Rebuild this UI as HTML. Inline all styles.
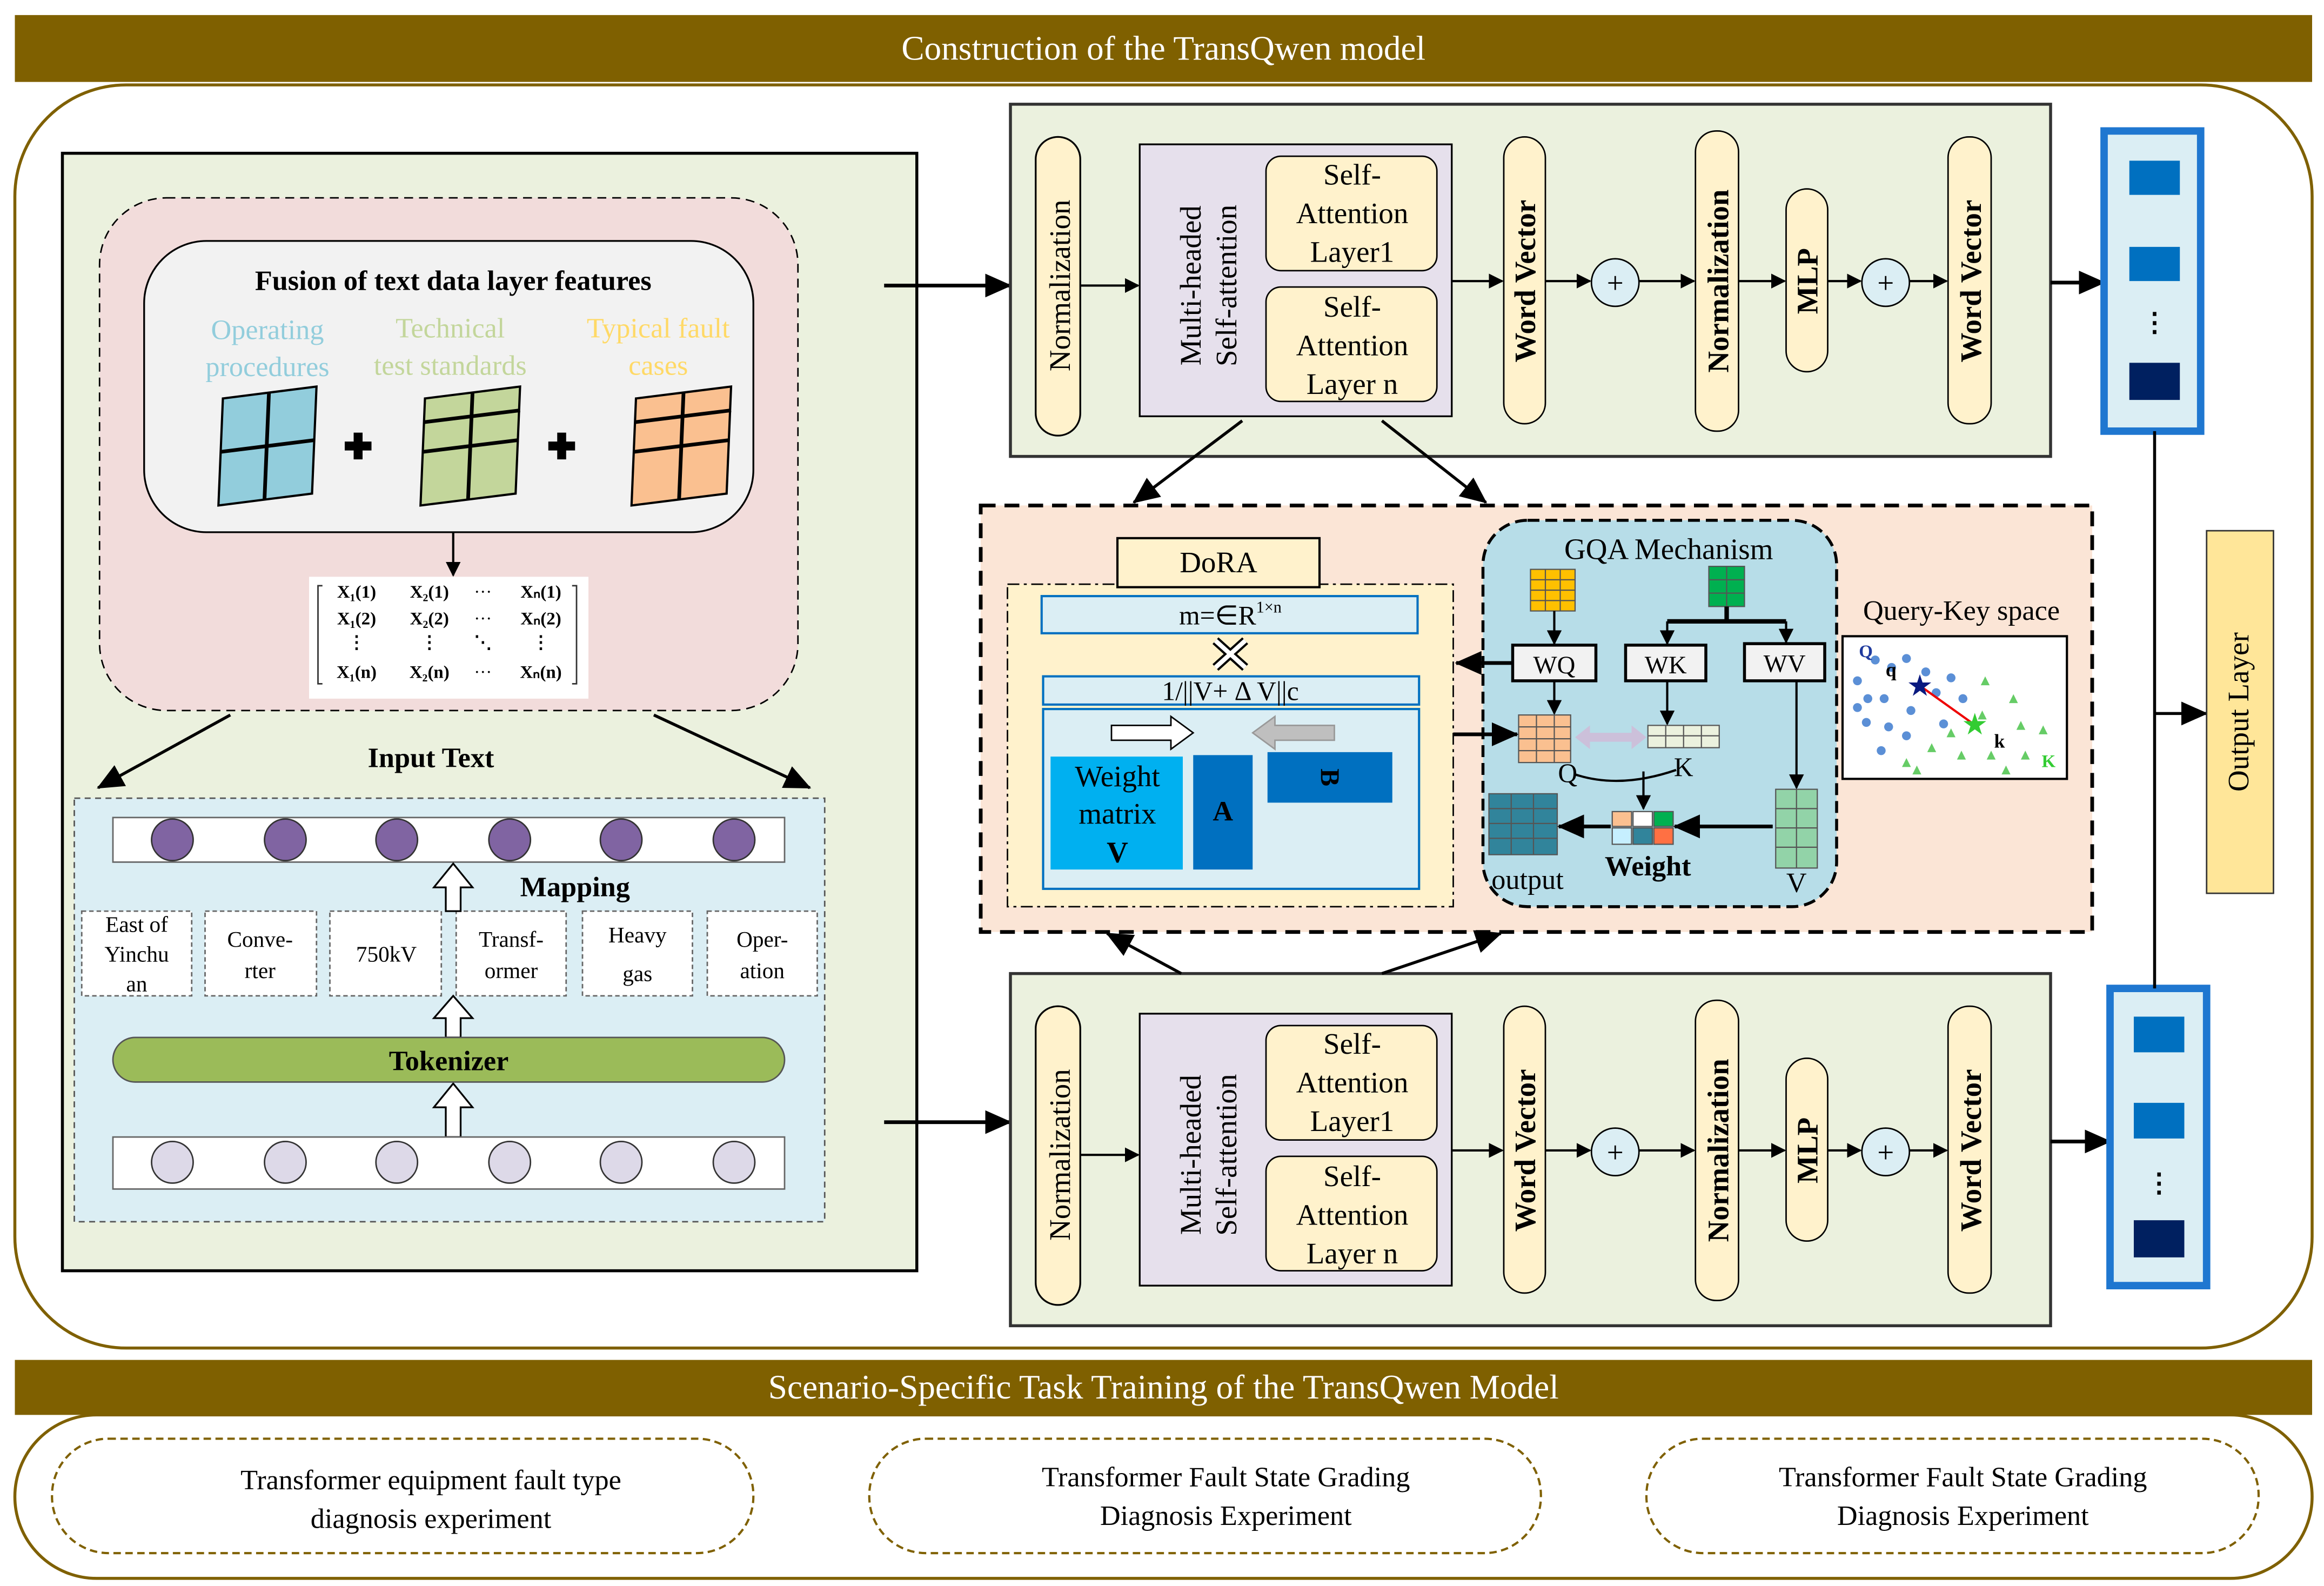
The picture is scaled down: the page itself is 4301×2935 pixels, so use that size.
<!DOCTYPE html>
<html><head><meta charset="utf-8"><style>html,body{margin:0;padding:0;background:#fff}svg{display:block}text{font-family:"Liberation Serif",serif}</style></head>
<body>
<svg width="4301" height="2935" viewBox="0 0 1564 1067" xmlns="http://www.w3.org/2000/svg">
<defs>
<marker id="ah" markerWidth="10" markerHeight="10" refX="9" refY="5" orient="auto" markerUnits="userSpaceOnUse"><path d="M0,0 L10,5 L0,10 z" fill="#000"/></marker>
<marker id="ahb" markerWidth="18" markerHeight="16" refX="17" refY="8" orient="auto" markerUnits="userSpaceOnUse"><path d="M0,0 L18,8 L0,16 z" fill="#000"/></marker>
</defs>
<rect width="1564" height="1067" fill="#fff"/>
<!-- top banner -->
<rect x="10" y="10" width="1546" height="45" fill="#7f6000"/>
<text x="783" y="40" font-size="23" fill="#fff" text-anchor="middle">Construction of the TransQwen model</text>
<rect x="10" y="57" width="1546" height="850" rx="75" fill="#fff" stroke="#7f6000" stroke-width="2"/>

<!-- left panel -->
<rect x="42" y="103" width="575" height="752" fill="#ebf1de" stroke="#000" stroke-width="2"/>
<rect x="67" y="133" width="470" height="345" rx="45" fill="#f2dcdb" stroke="#000" stroke-dasharray="6,4"/>
<rect x="97" y="162" width="410" height="196" rx="42" fill="#f2f2f2" stroke="#000" stroke-width="1.2"/>
<text x="305" y="195" font-size="19" font-weight="bold" text-anchor="middle">Fusion of text data layer features</text>
<g font-size="19" text-anchor="middle">
<text x="180" y="228" fill="#92cddc">Operating</text><text x="180" y="253" fill="#92cddc">procedures</text>
<text x="303" y="227" fill="#c3d69b">Technical</text><text x="303" y="252" fill="#c3d69b">test standards</text>
<text x="443" y="227" fill="#ffd966">Typical fault</text><text x="443" y="252" fill="#ffd966">cases</text>
</g>
<g stroke="#000" stroke-width="1.5">
<path d="M150,268 L213,260 L210,332 L147,340 z" fill="#92cddc"/>
<path d="M181,264 L178,336 M148,304 L212,296" stroke-width="2.5"/>
<path d="M286,268 L350,260 L347,332 L283,340 z" fill="#c3d69b"/>
<path d="M318,264 L315,336 M284,304 L349,296 M285,284 L350,276" stroke-width="2.5"/>
<path d="M428,268 L492,260 L489,332 L425,340 z" fill="#fac090"/>
<path d="M460,264 L457,336 M426,304 L491,296 M427,284 L492,276" stroke-width="2.5"/>
</g>
<path d="M241,291 v18 M232,300 h18" stroke="#000" stroke-width="6"/>
<path d="M378,291 v18 M369,300 h18" stroke="#000" stroke-width="6"/>
<line x1="305" y1="358" x2="305" y2="387" stroke="#000" stroke-width="1.5" marker-end="url(#ah)"/>
<rect x="208" y="388" width="188" height="82" fill="#fff"/>
<g font-size="12" font-weight="bold" text-anchor="middle">
<text x="240" y="402">X₁(1)</text><text x="289" y="402">X₂(1)</text><text x="325" y="402" font-weight="normal">···</text><text x="364" y="402">Xₙ(1)</text>
<text x="240" y="420">X₁(2)</text><text x="289" y="420">X₂(2)</text><text x="325" y="420" font-weight="normal">···</text><text x="364" y="420">Xₙ(2)</text>
<text x="240" y="436">⋮</text><text x="289" y="436">⋮</text><text x="325" y="436">⋱</text><text x="364" y="436">⋮</text>
<text x="240" y="456">X₁(n)</text><text x="289" y="456">X₂(n)</text><text x="325" y="456" font-weight="normal">···</text><text x="364" y="456">Xₙ(n)</text>
</g>
<path d="M217,394 h-3 v66 h3 M385,394 h3 v66 h-3" fill="none" stroke="#333"/>
<text x="290" y="516" font-size="19" font-weight="bold" text-anchor="middle">Input Text</text>
<line x1="155" y1="481" x2="66" y2="530" stroke="#000" stroke-width="2" marker-end="url(#ahb)"/>
<line x1="440" y1="481" x2="545" y2="530" stroke="#000" stroke-width="2" marker-end="url(#ahb)"/>
<rect x="50" y="537" width="505" height="285" fill="#dbeef4" stroke="#555" stroke-dasharray="4,3"/>
<rect x="76" y="550" width="452" height="30" fill="#fff" stroke="#666"/>
<g fill="#8064a2" stroke="#333"><circle cx="116" cy="565" r="14"/><circle cx="192" cy="565" r="14"/><circle cx="267" cy="565" r="14"/><circle cx="343" cy="565" r="14"/><circle cx="418" cy="565" r="14"/><circle cx="494" cy="565" r="14"/></g>
<text x="387" y="603" font-size="19" font-weight="bold" text-anchor="middle">Mapping</text>
<g fill="#fff" stroke="#666" stroke-dasharray="3,2">
<rect x="55" y="613" width="74" height="57"/><rect x="138" y="613" width="75" height="57"/><rect x="222" y="613" width="75" height="57"/><rect x="307" y="613" width="74" height="57"/><rect x="392" y="613" width="74" height="57"/><rect x="476" y="613" width="74" height="57"/>
</g>
<g font-size="15" text-anchor="middle">
<text x="92" y="627">East of</text><text x="92" y="647">Yinchu</text><text x="92" y="667">an</text>
<text x="175" y="637">Conve-</text><text x="175" y="658">rter</text>
<text x="260" y="647">750kV</text>
<text x="344" y="637">Transf-</text><text x="344" y="658">ormer</text>
<text x="429" y="634">Heavy</text><text x="429" y="660">gas</text>
<text x="513" y="637">Oper-</text><text x="513" y="658">ation</text>
</g>
<g fill="#fff" stroke="#000" stroke-width="1.2">
<path d="M300,613 v-16 h-8 l13,-16 l13,16 h-8 v16 z"/>
<path d="M300,698 v-13 h-8 l13,-15 l13,15 h-8 v13 z"/>
<path d="M300,765 v-20 h-8 l13,-16 l13,16 h-8 v20 z"/>
</g>
<rect x="76" y="698" width="452" height="30" rx="15" fill="#9bbb59" stroke="#555"/>
<text x="302" y="720" font-size="19" font-weight="bold" text-anchor="middle">Tokenizer</text>
<rect x="76" y="765" width="452" height="35" fill="#fff" stroke="#666"/>
<g fill="#ddd9e8" stroke="#333"><circle cx="116" cy="782" r="14"/><circle cx="192" cy="782" r="14"/><circle cx="267" cy="782" r="14"/><circle cx="343" cy="782" r="14"/><circle cx="418" cy="782" r="14"/><circle cx="494" cy="782" r="14"/></g>

<!-- arrows into transformer -->
<line x1="595" y1="192" x2="680" y2="192" stroke="#000" stroke-width="2.5" marker-end="url(#ahb)"/>
<line x1="595" y1="755" x2="680" y2="755" stroke="#000" stroke-width="2.5" marker-end="url(#ahb)"/>

<!-- transformer blocks -->
<g id="tb1">
<rect x="680" y="70" width="700" height="237" fill="#ebf1de" stroke="#333" stroke-width="2"/>
<rect x="697" y="92" width="30" height="201" rx="15" fill="#fff2cc" stroke="#000" stroke-width="1.2"/>
<text transform="translate(720,192) rotate(-90)" font-size="20" text-anchor="middle">Normalization</text>
<rect x="767" y="97" width="210" height="183" fill="#e6e0ec" stroke="#000" stroke-width="1.2"/>
<text transform="translate(808,192) rotate(-90)" font-size="20" text-anchor="middle">Multi-headed</text>
<text transform="translate(832,192) rotate(-90)" font-size="20" text-anchor="middle">Self-attention</text>
<rect x="852" y="105" width="115" height="77" rx="10" fill="#fff2cc" stroke="#000"/>
<text x="910" y="124" font-size="20" text-anchor="middle">Self-</text><text x="910" y="150" font-size="20" text-anchor="middle">Attention</text><text x="910" y="176" font-size="20" text-anchor="middle">Layer1</text>
<rect x="852" y="193" width="115" height="77" rx="10" fill="#fff2cc" stroke="#000"/>
<text x="910" y="213" font-size="20" text-anchor="middle">Self-</text><text x="910" y="239" font-size="20" text-anchor="middle">Attention</text><text x="910" y="265" font-size="20" text-anchor="middle">Layer n</text>
<rect x="1012" y="92" width="28" height="193" rx="14" fill="#fff2cc" stroke="#000"/>
<text transform="translate(1033,189) rotate(-90)" font-size="20" font-weight="bold" text-anchor="middle">Word Vector</text>
<circle cx="1087" cy="190" r="16" fill="#dbeef4" stroke="#000"/><text x="1087" y="197" font-size="20" text-anchor="middle">+</text>
<rect x="1141" y="88" width="29" height="202" rx="14" fill="#fff2cc" stroke="#000"/>
<text transform="translate(1163,189) rotate(-90)" font-size="20" font-weight="bold" text-anchor="middle">Normalization</text>
<rect x="1202" y="127" width="28" height="123" rx="14" fill="#fff2cc" stroke="#000"/>
<text transform="translate(1223,189) rotate(-90)" font-size="20" font-weight="bold" text-anchor="middle">MLP</text>
<circle cx="1269" cy="190" r="16" fill="#dbeef4" stroke="#000"/><text x="1269" y="197" font-size="20" text-anchor="middle">+</text>
<rect x="1311" y="92" width="29" height="193" rx="14" fill="#fff2cc" stroke="#000"/>
<text transform="translate(1333,189) rotate(-90)" font-size="20" font-weight="bold" text-anchor="middle">Word Vector</text>
<g stroke="#000" stroke-width="1.5" marker-end="url(#ah)">
<line x1="727" y1="192" x2="766" y2="192"/><line x1="977" y1="189" x2="1011" y2="189"/><line x1="1040" y1="189" x2="1070" y2="189"/><line x1="1103" y1="189" x2="1140" y2="189"/><line x1="1170" y1="189" x2="1201" y2="189"/><line x1="1230" y1="189" x2="1252" y2="189"/><line x1="1285" y1="189" x2="1310" y2="189"/>
</g>
</g>
<g transform="translate(0,585)">
<rect x="680" y="70" width="700" height="237" fill="#ebf1de" stroke="#333" stroke-width="2"/>
<rect x="697" y="92" width="30" height="201" rx="15" fill="#fff2cc" stroke="#000" stroke-width="1.2"/>
<text transform="translate(720,192) rotate(-90)" font-size="20" text-anchor="middle">Normalization</text>
<rect x="767" y="97" width="210" height="183" fill="#e6e0ec" stroke="#000" stroke-width="1.2"/>
<text transform="translate(808,192) rotate(-90)" font-size="20" text-anchor="middle">Multi-headed</text>
<text transform="translate(832,192) rotate(-90)" font-size="20" text-anchor="middle">Self-attention</text>
<rect x="852" y="105" width="115" height="77" rx="10" fill="#fff2cc" stroke="#000"/>
<text x="910" y="124" font-size="20" text-anchor="middle">Self-</text><text x="910" y="150" font-size="20" text-anchor="middle">Attention</text><text x="910" y="176" font-size="20" text-anchor="middle">Layer1</text>
<rect x="852" y="193" width="115" height="77" rx="10" fill="#fff2cc" stroke="#000"/>
<text x="910" y="213" font-size="20" text-anchor="middle">Self-</text><text x="910" y="239" font-size="20" text-anchor="middle">Attention</text><text x="910" y="265" font-size="20" text-anchor="middle">Layer n</text>
<rect x="1012" y="92" width="28" height="193" rx="14" fill="#fff2cc" stroke="#000"/>
<text transform="translate(1033,189) rotate(-90)" font-size="20" font-weight="bold" text-anchor="middle">Word Vector</text>
<circle cx="1087" cy="190" r="16" fill="#dbeef4" stroke="#000"/><text x="1087" y="197" font-size="20" text-anchor="middle">+</text>
<rect x="1141" y="88" width="29" height="202" rx="14" fill="#fff2cc" stroke="#000"/>
<text transform="translate(1163,189) rotate(-90)" font-size="20" font-weight="bold" text-anchor="middle">Normalization</text>
<rect x="1202" y="127" width="28" height="123" rx="14" fill="#fff2cc" stroke="#000"/>
<text transform="translate(1223,189) rotate(-90)" font-size="20" font-weight="bold" text-anchor="middle">MLP</text>
<circle cx="1269" cy="190" r="16" fill="#dbeef4" stroke="#000"/><text x="1269" y="197" font-size="20" text-anchor="middle">+</text>
<rect x="1311" y="92" width="29" height="193" rx="14" fill="#fff2cc" stroke="#000"/>
<text transform="translate(1333,189) rotate(-90)" font-size="20" font-weight="bold" text-anchor="middle">Word Vector</text>
<g stroke="#000" stroke-width="1.5" marker-end="url(#ah)">
<line x1="727" y1="192" x2="766" y2="192"/><line x1="977" y1="189" x2="1011" y2="189"/><line x1="1040" y1="189" x2="1070" y2="189"/><line x1="1103" y1="189" x2="1140" y2="189"/><line x1="1170" y1="189" x2="1201" y2="189"/><line x1="1230" y1="189" x2="1252" y2="189"/><line x1="1285" y1="189" x2="1310" y2="189"/>
</g>
</g>

<!-- output boxes -->
<line x1="1380" y1="190" x2="1416" y2="190" stroke="#000" stroke-width="2.5" marker-end="url(#ahb)"/>
<line x1="1380" y1="768" x2="1420" y2="768" stroke="#000" stroke-width="2.5" marker-end="url(#ahb)"/>
<rect x="1416" y="88" width="65" height="202" fill="#dbeef4" stroke="#1f77d0" stroke-width="5"/>
<rect x="1433" y="108" width="34" height="23" fill="#0070c0"/><rect x="1433" y="166" width="34" height="23" fill="#0070c0"/>
<text x="1450" y="223" font-size="18" font-weight="bold" text-anchor="middle">⋮</text>
<rect x="1433" y="244" width="34" height="25" fill="#002060"/>
<rect x="1420" y="665" width="65" height="200" fill="#dbeef4" stroke="#1f77d0" stroke-width="5"/>
<rect x="1436" y="684" width="34" height="24" fill="#0070c0"/><rect x="1436" y="742" width="34" height="24" fill="#0070c0"/>
<text x="1453" y="802" font-size="18" font-weight="bold" text-anchor="middle">⋮</text>
<rect x="1436" y="821" width="34" height="25" fill="#002060"/>
<line x1="1450" y1="290" x2="1450" y2="665" stroke="#000" stroke-width="2"/>
<line x1="1450" y1="480" x2="1485" y2="480" stroke="#000" stroke-width="2" marker-end="url(#ahb)"/>
<rect x="1485" y="357" width="45" height="244" fill="#ffe699" stroke="#333"/>
<text transform="translate(1513,479) rotate(-90)" font-size="20" text-anchor="middle">Output Layer</text>

<!-- middle region -->
<rect x="660" y="340" width="748" height="287" fill="#fbe5d6" stroke="#000" stroke-width="2.5" stroke-dasharray="10,6"/>
<g stroke="#000" stroke-width="2" marker-end="url(#ahb)">
<line x1="836" y1="283" x2="763" y2="338"/><line x1="930" y1="283" x2="1000" y2="338"/>
<line x1="795" y1="655" x2="745" y2="628"/><line x1="930" y1="655" x2="1010" y2="628"/>
</g>
<rect x="678" y="393" width="300" height="217" fill="#fff2cc" stroke="#000" stroke-dasharray="8,3,2,3"/>
<rect x="752" y="362" width="136" height="33" fill="#fff2cc" stroke="#000" stroke-width="1.5"/>
<text x="820" y="385" font-size="20" text-anchor="middle">DoRA</text>
<rect x="701" y="401" width="253" height="25" fill="#dbeef4" stroke="#0070c0" stroke-width="1.5"/>
<text x="828" y="420" font-size="18" text-anchor="middle">m=∈R<tspan font-size="11" dy="-8">1×n</tspan></text>
<path d="M818,431 l20,18 M838,431 l-20,18" stroke="#000" stroke-width="6"/>
<path d="M818,431 l20,18 M838,431 l-20,18" stroke="#fff" stroke-width="3"/>
<rect x="702" y="455" width="253" height="19" fill="#dbeef4" stroke="#0070c0" stroke-width="1.5"/>
<text x="828" y="471" font-size="18" text-anchor="middle">1/||V+ Δ V||c</text>
<rect x="702" y="477" width="253" height="121" fill="#dbeef4" stroke="#0070c0" stroke-width="1.5"/>
<path d="M748,488 h40 v-6 l15,11 l-15,11 v-6 h-40 z" fill="#fff" stroke="#000"/>
<path d="M898,488 h-40 v-6 l-15,11 l15,11 v-6 h40 z" fill="#bfbfbf" stroke="#999"/>
<rect x="707" y="509" width="89" height="76" fill="#00b0f0"/>
<text x="752" y="529" font-size="20" text-anchor="middle">Weight</text><text x="752" y="554" font-size="20" text-anchor="middle">matrix</text><text x="752" y="580" font-size="20" font-weight="bold" text-anchor="middle">V</text>
<rect x="803" y="508" width="40" height="77" fill="#0070c0"/><text x="823" y="552" font-size="19" font-weight="bold" text-anchor="middle">A</text>
<rect x="853" y="506" width="84" height="34" fill="#0070c0"/><text transform="translate(889,523) rotate(90)" font-size="18" font-weight="bold" text-anchor="middle">B</text>

<!-- GQA -->
<rect x="998" y="350" width="238" height="260" rx="30" fill="#b7dde8" stroke="#000" stroke-width="2" stroke-dasharray="8,4"/>
<text x="1123" y="376" font-size="20" text-anchor="middle">GQA Mechanism</text>
<g stroke="#555" stroke-width="0.8">
<rect x="1030" y="383" width="30" height="28" fill="#ffc000"/><path d="M1040,383 v28 M1050,383 v28 M1030,390 h30 M1030,397 h30 M1030,404 h30"/>
<rect x="1150" y="381" width="24" height="27" fill="#00b050"/><path d="M1162,381 v27 M1150,390 h24 M1150,399 h24"/>
<rect x="1022" y="481" width="35" height="32" fill="#fac090"/><path d="M1034,481 v32 M1046,481 v32 M1022,489 h35 M1022,497 h35 M1022,505 h35"/>
<rect x="1109" y="488" width="48" height="15" fill="#ebf1de"/><path d="M1121,488 v15 M1133,488 v15 M1145,488 v15 M1109,495 h48"/>
<rect x="1195" y="531" width="28" height="53" fill="#92d3a8"/><path d="M1209,531 v53 M1195,544 h28 M1195,557 h28 M1195,570 h28"/>
<rect x="1002" y="534" width="46" height="41" fill="#31849b"/><path d="M1017,534 v41 M1032,534 v41 M1002,544 h46 M1002,554 h46 M1002,564 h46"/>
<rect x="1085" y="546" width="13" height="10" fill="#fac090"/><rect x="1099" y="546" width="13" height="10" fill="#fff"/><rect x="1113" y="546" width="13" height="10" fill="#00b050"/>
<rect x="1085" y="557" width="13" height="11" fill="#c6efff"/><rect x="1099" y="557" width="13" height="11" fill="#31849b"/><rect x="1113" y="557" width="13" height="11" fill="#ff7043"/>
</g>
<path d="M1162,408 v10 M1122,418 h80" stroke="#000" stroke-width="3"/>
<rect x="1018" y="434" width="56" height="24" fill="#f2f2f2" stroke="#000" stroke-width="2"/><text x="1046" y="453" font-size="17" text-anchor="middle">WQ</text>
<rect x="1094" y="434" width="54" height="24" fill="#f2f2f2" stroke="#000" stroke-width="2"/><text x="1121" y="453" font-size="17" text-anchor="middle">WK</text>
<rect x="1174" y="433" width="54" height="25" fill="#f2f2f2" stroke="#000" stroke-width="2"/><text x="1201" y="452" font-size="17" text-anchor="middle">WV</text>
<g stroke="#000" stroke-width="1.5" marker-end="url(#ah)">
<line x1="1046" y1="411" x2="1046" y2="433"/><line x1="1122" y1="418" x2="1122" y2="433"/><line x1="1202" y1="418" x2="1202" y2="432"/>
<line x1="1046" y1="458" x2="1046" y2="480"/><line x1="1122" y1="458" x2="1122" y2="487"/><line x1="1209" y1="458" x2="1209" y2="530"/>
<line x1="1106" y1="519" x2="1106" y2="544"/>
</g>
<g stroke="#000" stroke-width="2.5" marker-end="url(#ahb)">
<line x1="1018" y1="446" x2="980" y2="446"/><line x1="978" y1="494" x2="1021" y2="494"/>
<line x1="1193" y1="556" x2="1127" y2="556"/><line x1="1084" y1="556" x2="1049" y2="556"/>
</g>
<path d="M1060,496 l10,-8 v5 h28 v-5 l10,8 l-10,8 v-5 h-28 v5 z" fill="#ccc0da"/>
<path d="M1060,521 q30,10 68,-3" fill="none" stroke="#000" stroke-width="1.5"/>
<text x="1055" y="526" font-size="18" text-anchor="middle">Q</text><text x="1133" y="522" font-size="18" text-anchor="middle">K</text>
<text x="1028" y="598" font-size="19" text-anchor="middle">output</text>
<text x="1109" y="589" font-size="19" font-weight="bold" text-anchor="middle">Weight</text>
<text x="1209" y="600" font-size="19" text-anchor="middle">V</text>
<text x="1320" y="417" font-size="19" text-anchor="middle">Query-Key space</text>
<rect x="1240" y="428" width="151" height="96" fill="#fff" stroke="#000" stroke-width="1.5"/>
<g fill="#5b8fd6">
<circle cx="1262" cy="444" r="3"/><circle cx="1273" cy="449" r="3"/><circle cx="1283" cy="443" r="3"/><circle cx="1296" cy="452" r="3"/><circle cx="1250" cy="458" r="3"/><circle cx="1257" cy="470" r="3"/><circle cx="1268" cy="470" r="3"/><circle cx="1250" cy="476" r="3"/><circle cx="1286" cy="478" r="3"/><circle cx="1303" cy="466" r="3"/><circle cx="1313" cy="456" r="3"/><circle cx="1256" cy="486" r="3"/><circle cx="1271" cy="489" r="3"/><circle cx="1283" cy="495" r="3"/><circle cx="1308" cy="487" r="3"/><circle cx="1321" cy="470" r="3"/><circle cx="1266" cy="505" r="3"/>
</g>
<g fill="#66cc66">
<path d="M1336,455 l3,6 h-6 z"/><path d="M1313,490 l3,6 h-6 z"/><path d="M1334,478 l3,6 h-6 z"/><path d="M1355,467 l3,6 h-6 z"/><path d="M1360,485 l3,6 h-6 z"/><path d="M1300,500 l3,6 h-6 z"/><path d="M1320,505 l3,6 h-6 z"/><path d="M1340,505 l3,6 h-6 z"/><path d="M1283,510 l3,6 h-6 z"/><path d="M1363,505 l3,6 h-6 z"/><path d="M1375,488 l3,6 h-6 z"/><path d="M1290,515 l3,6 h-6 z"/><path d="M1350,515 l3,6 h-6 z"/>
</g>
<line x1="1293" y1="462" x2="1328" y2="487" stroke="#e00" stroke-width="1.5"/>
<text x="1292" y="468" font-size="20" fill="#0a1a80" text-anchor="middle">★</text>
<text x="1329" y="494" font-size="20" fill="#33cc33" text-anchor="middle">★</text>
<text x="1251" y="442" font-size="12" font-weight="bold" fill="#1f3a9e">Q</text>
<text x="1269" y="455" font-size="13" font-weight="bold">q</text>
<text x="1342" y="503" font-size="13" font-weight="bold">k</text>
<text x="1374" y="516" font-size="12" font-weight="bold" fill="#33cc33">K</text>

<!-- bottom -->
<rect x="10" y="915" width="1546" height="37" fill="#7f6000"/>
<text x="783" y="941" font-size="23" fill="#fff" text-anchor="middle">Scenario-Specific Task Training of the TransQwen Model</text>
<rect x="10" y="952" width="1546" height="110" rx="55" fill="#fff" stroke="#7f6000" stroke-width="2"/>
<g fill="#fff" stroke="#7f6000" stroke-width="1.5" stroke-dasharray="5,3">
<rect x="35" y="968" width="472" height="77" rx="38"/><rect x="585" y="968" width="452" height="77" rx="38"/><rect x="1108" y="968" width="412" height="77" rx="38"/>
</g>
<g font-size="19" text-anchor="middle">
<text x="290" y="1002">Transformer equipment fault type</text><text x="290" y="1028">diagnosis experiment</text>
<text x="825" y="1000">Transformer Fault State Grading</text><text x="825" y="1026">Diagnosis Experiment</text>
<text x="1321" y="1000">Transformer Fault State Grading</text><text x="1321" y="1026">Diagnosis Experiment</text>
</g>
</svg>
</body></html>
